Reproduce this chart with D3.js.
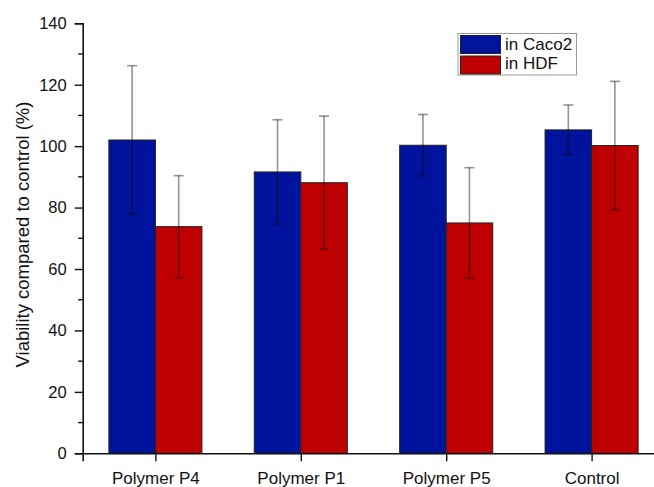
<!DOCTYPE html>
<html>
<head>
<meta charset="utf-8">
<script src="https://cdn.jsdelivr.net/npm/d3@7"></script>
<style>
  html, body { margin: 0; padding: 0; background: #fff; }
  svg { display: block; }
  text { font-family: "Liberation Sans", Arial, sans-serif; fill: #111; }
</style>
</head>
<body>
<svg id="chart" width="654" height="487"></svg>
<script>
// Cell viability per polymer, two cell lines
const categories = ["Polymer P4", "Polymer P1", "Polymer P5", "Control"];
const seriesNames = ["in Caco2", "in HDF"];
const caco2Values = [102.0, 91.6, 100.3, 105.3];
const caco2Errors = [24.2, 17.0, 10.0, 8.1];
const hdfValues = [73.8, 88.1, 75.0, 100.2];
const hdfErrors = [16.6, 21.7, 18.0, 20.9];
const yTicks = [0, 20, 40, 60, 80, 100, 120, 140];
const yMinorTicks = [10, 30, 50, 70, 90, 110, 130];

const colors = ["#00139c", "#bf0000"];
const series = [
  { name: seriesNames[0], values: caco2Values, errors: caco2Errors },
  { name: seriesNames[1], values: hdfValues, errors: hdfErrors }
];

const svg = d3.select("#chart");
const plotLeft = 82.7, plotBottom = 453.3, plotTop = 23.3;

const x = d3.scaleLinear().domain([0.5, 4.5]).range([plotLeft, 664.3]);
const y = d3.scaleLinear().domain([0, 140]).range([plotBottom, plotTop]);
const step = x(2) - x(1);
const barW = step * 0.32;

// bars
series.forEach((s, si) => {
  const g = svg.append("g");
  g.selectAll("rect")
    .data(s.values)
    .join("rect")
    .attr("x", (d, i) => x(i + 1) + (si === 0 ? -barW : 0))
    .attr("y", d => y(d))
    .attr("width", barW)
    .attr("height", d => y(0) - y(d))
    .attr("fill", colors[si])
    .attr("stroke", "#222")
    .attr("stroke-width", 1);
});

// error bars
series.forEach((s, si) => {
  const g = svg.append("g")
    .attr("stroke", "#000")
    .attr("stroke-opacity", 0.42)
    .attr("stroke-width", 1.6)
    .attr("fill", "none");
  s.values.forEach((v, i) => {
    const cx = x(i + 1) + (si === 0 ? -barW / 2 : barW / 2);
    const hi = y(v + s.errors[i]), lo = y(v - s.errors[i]);
    g.append("line").attr("x1", cx).attr("x2", cx).attr("y1", hi).attr("y2", lo);
    g.append("line").attr("x1", cx - 5).attr("x2", cx + 5).attr("y1", hi).attr("y2", hi);
    g.append("line").attr("x1", cx - 5).attr("x2", cx + 5).attr("y1", lo).attr("y2", lo);
  });
});

// y axis
const yAxis = d3.axisLeft(y).tickValues(yTicks).tickSize(8).tickPadding(8).tickFormat(d3.format("d"));
const yg = svg.append("g").attr("transform", `translate(${plotLeft},0)`).call(yAxis);
yg.select(".domain").attr("stroke", "#111").attr("stroke-width", 1.6);
yg.selectAll(".tick line").attr("stroke", "#111").attr("stroke-width", 1.4);
yg.selectAll(".tick text").style("font-size", "16.5px").style("font-family", "Liberation Sans, Arial, sans-serif").attr("fill", "#111");
yg.selectAll(".minor").data(yMinorTicks).join("line")
  .attr("class", "minor")
  .attr("x1", 0).attr("x2", -4.5)
  .attr("y1", d => y(d)).attr("y2", d => y(d))
  .attr("stroke", "#111").attr("stroke-width", 1.4);

// x axis
const xAxis = d3.axisBottom(x).tickValues([1, 2, 3, 4]).tickSize(8).tickPadding(11)
  .tickFormat(d => categories[d - 1]);
const xg = svg.append("g").attr("transform", `translate(0,${plotBottom})`).call(xAxis);
xg.select(".domain").attr("stroke", "#111").attr("stroke-width", 1.6);
xg.selectAll(".tick line").attr("stroke", "#111").attr("stroke-width", 1.4);
xg.selectAll(".tick text").style("font-size", "17px").style("font-family", "Liberation Sans, Arial, sans-serif").attr("fill", "#111");

// y axis title
svg.append("text")
  .attr("transform", `translate(29,234.5) rotate(-90)`)
  .attr("text-anchor", "middle")
  .style("font-size", "18.5px")
  .text("Viability compared to control (%)");

// legend
const lg = svg.append("g").attr("transform", "translate(458,33.5)");
lg.append("rect").attr("width", 118.5).attr("height", 41.5)
  .attr("fill", "#fff").attr("stroke", "#999").attr("stroke-width", 1);
seriesNames.forEach((name, i) => {
  lg.append("rect")
    .attr("x", 2.5).attr("y", 2 + i * 20.5)
    .attr("width", 40).attr("height", 18)
    .attr("fill", colors[i]).attr("stroke", "#222").attr("stroke-width", 1);
  lg.append("text")
    .attr("x", 47).attr("y", 16.5 + i * 19.3)
    .style("font-size", "17px")
    .text(name);
});
</script>
</body>
</html>
